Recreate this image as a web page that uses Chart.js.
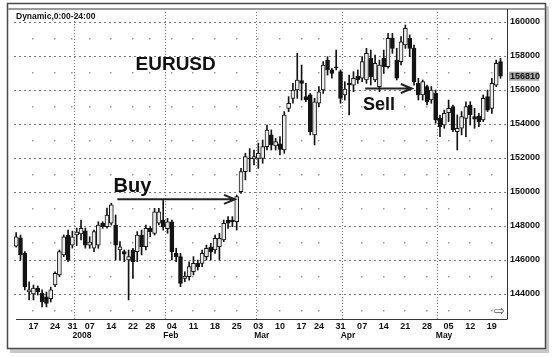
<!DOCTYPE html>
<html>
<head>
<meta charset="utf-8">
<script src="https://cdn.jsdelivr.net/npm/chart.js"></script>
<style>
    body { margin: 0; background: #fff; }
</style>
</head>
<body>
<canvas id="eurusdChart" width="553" height="357"></canvas>
<script>
// daily bars, Dec 2007 - May 2008 (holidays are missing in the feed)
const dates = [
    '12-11', '12-12', '12-13', '12-14', '12-17', '12-18', '12-19', '12-20', '12-21', '12-24', '12-26', '12-27', '12-28', '12-31',
    '01-02', '01-03', '01-04', '01-07', '01-08', '01-09', '01-10', '01-11', '01-14', '01-15', '01-16', '01-17', '01-18',
    '01-22', '01-23', '01-24', '01-25', '01-28', '01-29', '01-30', '01-31',
    '02-01', '02-04', '02-05', '02-06', '02-07', '02-08', '02-11', '02-12', '02-13', '02-14', '02-15', '02-18', '02-19',
    '02-20', '02-21', '02-22', '02-25', '02-26', '02-27', '02-28', '02-29',
    '03-03', '03-04', '03-05', '03-06', '03-07', '03-10', '03-11', '03-12', '03-13', '03-14', '03-17', '03-18', '03-19',
    '03-20', '03-24', '03-25', '03-26', '03-27', '03-28', '03-31',
    '04-01', '04-02', '04-03', '04-04', '04-07', '04-08', '04-09', '04-10', '04-11', '04-14', '04-15', '04-16', '04-17',
    '04-18', '04-21', '04-22', '04-23', '04-24', '04-25', '04-28', '04-29', '04-30',
    '05-01', '05-02', '05-05', '05-06', '05-07', '05-08', '05-09', '05-12', '05-13', '05-14', '05-15', '05-16', '05-19',
    '05-20', '05-21'
];

const opens = [
    146820, 147310, 146400, 144120, 144000, 144350, 144060, 143840, 143730, 144530,
    145120, 146300, 147470, 146880, 147470, 147530, 147720, 146880, 146690, 146880,
    148160, 147960, 148160, 148060, 146590, 146490, 146000, 146590, 146490, 147470,
    146780, 147860, 147570, 148160, 148350, 147840, 148250, 146390, 146200, 144920,
    145020, 145310, 145800, 145800, 146200, 146780, 146590, 146780, 147180, 148350,
    148350, 148250, 150020, 151200, 152000, 151950, 151980, 151980, 152670, 153360,
    152710, 152830, 152470, 154920, 155510, 156000, 156550, 155610, 155710, 153360,
    155220, 156000, 157760, 157180, 157370, 157080, 155710, 156390, 156290, 156820,
    156690, 156590, 157860, 156590, 156200, 157860, 157370, 159040, 157760, 157670,
    158650, 159040, 158450, 156390, 155710, 156200, 155410, 155800, 154330, 153940,
    154670, 155020, 153550, 153750, 154330, 155120, 154430, 154470, 154240, 155610,
    154920, 156290, 157670
];
const highs = [
    147610, 147470, 146500, 144710, 144530, 144470, 144240, 144120, 144410, 145310,
    146590, 147470, 147760, 147700, 147880, 148350, 147880, 147370, 147760, 148250,
    148250, 149060, 149340, 148650, 147080, 146590, 146590, 146690, 147670, 147760,
    148060, 147960, 149040, 149040, 149530, 148450, 148350, 146690, 146390, 145310,
    145900, 146200, 146000, 146590, 146880, 146980, 147470, 147570, 148350, 148550,
    148550, 149820, 151390, 152280, 152550, 152470, 152870, 153060, 153940, 153650,
    153160, 153260, 154730, 155610, 156390, 158160, 157470, 156390, 155800, 155510,
    156200, 157670, 157960, 157280, 158350, 157180, 156490, 156880, 157080, 157180,
    157960, 158450, 158350, 158060, 157760, 158350, 159330, 159330, 158450, 159140,
    159820, 159240, 158650, 156690, 156590, 156290, 156200, 156000, 154530, 154820,
    155410, 155120, 154530, 154730, 155310, 155310, 154920, 154630, 155710, 156000,
    156690, 157760, 157860
];
const lows = [
    146750, 146000, 144240, 143650, 143650, 143940, 143240, 143240, 143530, 144430,
    145020, 146200, 145900, 146700, 146840, 147180, 146700, 146690, 146490, 146690,
    147860, 147880, 148060, 146000, 146000, 145900, 143650, 144920, 145900, 146300,
    146590, 147370, 147470, 148060, 147760, 147570, 146000, 145900, 144430, 144720,
    144820, 145120, 145410, 145610, 146000, 146000, 146390, 146000, 147080, 147860,
    147960, 147760, 149920, 150710, 151200, 151590, 151390, 151690, 152470, 152470,
    152470, 152180, 152280, 154730, 155220, 155510, 155410, 155310, 153360, 152770,
    155020, 155800, 156880, 156690, 157180, 155220, 155410, 154530, 155900, 156390,
    156490, 156390, 156290, 156490, 155900, 156980, 157280, 158160, 156590, 157470,
    158450, 157960, 156290, 155410, 155410, 155120, 155220, 154040, 153250, 153750,
    154140, 153550, 152470, 153360, 153250, 153940, 153750, 153840, 154140, 154730,
    154630, 156200, 156690
];
const closes = [
    147370, 146300, 144430, 144240, 144350, 144120, 143530, 143450, 144240, 145220,
    146490, 147370, 146000, 147370, 147650, 147860, 146880, 147060, 147670, 148060,
    147960, 148650, 149240, 146880, 146780, 146350, 146200, 145900, 147470, 146780,
    147860, 147670, 148840, 148840, 147960, 148250, 146490, 146200, 144630, 145060,
    145610, 145800, 145610, 146390, 146690, 146490, 147280, 147280, 148160, 148160,
    148250, 149730, 151200, 152080, 151950, 152080, 152280, 152670, 153650, 152770,
    152960, 152510, 154530, 155220, 156000, 156590, 156390, 155410, 153550, 155310,
    155900, 157470, 157180, 156980, 157310, 155510, 156060, 156300, 156690, 156590,
    157670, 158160, 156780, 157570, 157470, 157370, 159040, 158450, 156690, 158840,
    159630, 158450, 156490, 155710, 156490, 155310, 156000, 154240, 153840, 154630,
    154920, 153650, 153750, 154430, 155020, 154530, 154280, 154140, 155510, 154820,
    156390, 157570, 156810
];

const weekTicks = ['12-17', '12-24', '12-31', '01-07', '01-14', '01-22', '01-28', '02-04', '02-11', '02-18', '02-25',
    '03-03', '03-10', '03-17', '03-24', '03-31', '04-07', '04-14', '04-21', '04-28', '05-05', '05-12', '05-19'];
const monthStarts = ['01-02', '02-01', '03-03', '04-01', '05-01'];
const monthNames = ['2008', 'Feb', 'Mar', 'Apr', 'May'];
const priceTicks = [144000, 146000, 148000, 150000, 152000, 154000, 156000, 158000, 160000];
const halfLevels = [143000, 145000, 147000, 149000, 151000, 153000, 155000, 157000, 159000];
const lastPrice = 156810;

const FONT = '"Liberation Sans", Arial, sans-serif';

const labels = dates.concat(['']);
const bodies = opens.map((o, i) => [o, closes[i]]);
const wicks = lows.map((l, i) => [l, highs[i]]);
const bodyColors = opens.map((o, i) => closes[i] >= o ? '#ececec' : '#141414');

function drawArrow(ctx, x1, x2, y) {
    ctx.beginPath();
    ctx.moveTo(x1, y);
    ctx.lineTo(x2, y);
    ctx.moveTo(x2 - 11, y - 4.5);
    ctx.lineTo(x2, y);
    ctx.lineTo(x2 - 11, y + 4.5);
    ctx.stroke();
}

const framePlugin = {
    id: 'frame',
    beforeDraw(chart) {
        const ctx = chart.ctx;
        ctx.save();
        ctx.fillStyle = '#fff';
        ctx.fillRect(0, 0, chart.width, chart.height);
        ctx.fillStyle = '#c8c8c8';
        ctx.fillRect(10, 6, 539, 347);
        ctx.fillStyle = '#fff';
        ctx.fillRect(7, 3, 539, 346);
        ctx.restore();
    },
    beforeDatasetsDraw(chart) {
        // faint dots at the in-between price levels on each week
        const ctx = chart.ctx;
        const xs = chart.scales.x, ys = chart.scales.y;
        ctx.save();
        ctx.fillStyle = '#9a9a9a';
        weekTicks.forEach(d => {
            const x = Math.round(xs.getPixelForValue(dates.indexOf(d)));
            halfLevels.forEach(v => {
                ctx.fillRect(x - 1, Math.round(ys.getPixelForValue(v)) - 1, 1.5, 1.5);
            });
        });
        ctx.restore();
    },
    afterDraw(chart) {
        const ctx = chart.ctx;
        const area = chart.chartArea;
        const xs = chart.scales.x, ys = chart.scales.y;
        ctx.save();

        // outer frame and plot borders
        ctx.strokeStyle = '#4a4a4a';
        ctx.lineWidth = 1.5;
        ctx.strokeRect(7.5, 3.5, 538, 345);
        ctx.strokeStyle = '#9a9a9a';
        ctx.lineWidth = 2;
        ctx.beginPath();
        ctx.moveTo(8, area.top);
        ctx.lineTo(545, area.top);
        ctx.stroke();
        ctx.strokeStyle = '#333';
        ctx.lineWidth = 1;
        ctx.beginPath();
        ctx.moveTo(area.left + 2, area.bottom + 0.5);
        ctx.lineTo(area.right, area.bottom + 0.5);
        ctx.moveTo(area.right + 0.5, area.top);
        ctx.lineTo(area.right + 0.5, area.bottom + 0.5);
        ctx.stroke();

        ctx.fillStyle = '#111';
        ctx.textBaseline = 'alphabetic';
        ctx.textAlign = 'left';
        ctx.font = 'bold 8.5px ' + FONT;
        ctx.fillText('Dynamic,0:00-24:00', 16, 19);

        // month names under the first trading day of each month
        const half = (xs.getPixelForValue(1) - xs.getPixelForValue(0)) / 2;
        ctx.textBaseline = 'middle';
        monthStarts.forEach((d, k) => {
            const x = xs.getPixelForValue(dates.indexOf(d)) - half - 2;
            ctx.fillText(monthNames[k], x, 336);
        });

        // annotations
        ctx.textBaseline = 'alphabetic';
        ctx.font = 'bold 19px ' + FONT;
        ctx.fillText('EURUSD', xs.getPixelForValue(27.6), ys.getPixelForValue(157180));
        ctx.font = 'bold 20px ' + FONT;
        ctx.fillText('Buy', xs.getPixelForValue(22.5), ys.getPixelForValue(150000));
        ctx.font = 'bold 18px ' + FONT;
        ctx.fillText('Sell', xs.getPixelForValue(80.2), ys.getPixelForValue(154820));

        ctx.strokeStyle = '#222';
        ctx.lineWidth = 2;
        drawArrow(ctx, xs.getPixelForValue(23.4), xs.getPixelForValue(50.6), ys.getPixelForValue(149570));
        drawArrow(ctx, xs.getPixelForValue(80.7), xs.getPixelForValue(91.5), ys.getPixelForValue(156090));

        // last price marker on the price axis
        const py = ys.getPixelForValue(lastPrice);
        ctx.fillStyle = '#a9a9a9';
        ctx.fillRect(area.right + 2, py - 4.5, 30, 9);
        ctx.fillStyle = '#111';
        ctx.font = 'bold 9px ' + FONT;
        ctx.textBaseline = 'middle';
        ctx.fillText(String(lastPrice), area.right + 3, py + 0.5);

        // scroll icon
        ctx.font = '13px "DejaVu Sans"';
        ctx.fillStyle = '#555';
        ctx.fillText('\u21E8', area.right - 13, area.bottom - 7);
        ctx.restore();
    }
};

const ctx = document.getElementById('eurusdChart').getContext('2d');
new Chart(ctx, {
    type: 'bar',
    data: {
        labels: labels,
        datasets: [
            {
                label: 'body',
                data: bodies,
                backgroundColor: bodyColors,
                borderColor: '#141414',
                borderWidth: 1,
                borderSkipped: false,
                barThickness: 4,
                grouped: false,
                order: 0
            },
            {
                label: 'wick',
                data: wicks,
                backgroundColor: '#141414',
                borderWidth: 0,
                barThickness: 1,
                grouped: false,
                order: 1
            }
        ]
    },
    options: {
        responsive: false,
        animation: false,
        devicePixelRatio: 1,
        layout: { padding: { left: 14, top: 9, right: 0, bottom: 0 } },
        plugins: {
            legend: { display: false },
            tooltip: { enabled: false }
        },
        scales: {
            x: {
                type: 'category',
                offset: true,
                grid: {
                    offset: true,
                    drawTicks: false,
                    color: c => monthStarts.includes(dates[c.index]) ? '#7a7a7a' : 'transparent'
                },
                border: { display: false, dash: [1, 2] },
                ticks: {
                    autoSkip: false,
                    maxRotation: 0,
                    minRotation: 0,
                    padding: 2,
                    color: '#111',
                    font: { family: FONT, size: 9, weight: 'bold' },
                    callback: function(value) {
                        const d = this.getLabelForValue(value);
                        return weekTicks.includes(d) ? d.slice(3) : '';
                    }
                },
                afterFit: s => { s.height = 38; }
            },
            y: {
                position: 'right',
                min: 142530,
                max: 160765,
                afterBuildTicks: s => { s.ticks = priceTicks.map(v => ({ value: v })); },
                grid: {
                    drawTicks: false,
                    color: '#7a7a7a'
                },
                border: { display: false, dash: [2, 3] },
                ticks: {
                    autoSkip: false,
                    padding: 3,
                    color: '#111',
                    font: { family: FONT, size: 9, weight: 'bold' },
                    callback: v => String(v)
                },
                afterFit: s => { s.width = 46; }
            }
        }
    },
    plugins: [framePlugin]
});
</script>
</body>
</html>
